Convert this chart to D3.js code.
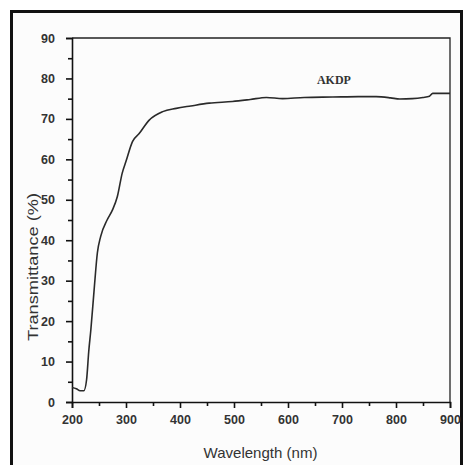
<!DOCTYPE html>
<html>
<head>
<meta charset="utf-8">
<script src="https://cdn.jsdelivr.net/npm/d3@7"></script>
<style>
  body { margin: 0; background: #fff; }
  svg { display: block; }
</style>
</head>
<body>
<svg id="chart" width="469" height="465"></svg>
<script>
// 数据
const wavelength = [200, 208, 215, 222, 227, 231, 235, 241, 247, 253, 265, 275, 284, 293, 300, 312, 324, 343, 368, 393, 420, 454, 497, 530, 560, 590, 630, 683, 730, 763, 790, 807, 830, 850, 862, 868, 900]
const transmittance = [3.6, 3.3, 2.8, 2.8, 5.5, 12.5, 18, 27.8, 36.9, 40.9, 45, 47.5, 50.8, 56.6, 59.5, 64.4, 66.3, 69.7, 71.8, 72.6, 73.2, 73.9, 74.3, 74.8, 75.3, 75.0, 75.3, 75.4, 75.5, 75.5, 75.2, 74.9, 75.0, 75.3, 75.6, 76.3, 76.3]
const xTicks = [200, 300, 400, 500, 600, 700, 800, 900]
const yTicks = [0, 10, 20, 30, 40, 50, 60, 70, 80, 90]
const seriesName = 'AKDP'

const svg = d3.select('#chart')
const plotL = 72, plotR = 450, plotT = 38, plotB = 402

const x = d3.scaleLinear().domain([200, 900]).range([plotL, plotR])
const y = d3.scaleLinear().domain([0, 90]).range([plotB, plotT])

// 外框
svg.append('rect').attr('x', 11.5).attr('y', 11.5).attr('width', 450).attr('height', 470)
  .attr('fill', '#fcfcfc').attr('stroke', '#111').attr('stroke-width', 3)

// 上、右边框
svg.append('path')
  .attr('d', `M${plotL},${plotT}H${plotR}V${plotB}`)
  .attr('fill', 'none').attr('stroke', '#222').attr('stroke-width', 1.3)

// 坐标轴
const xAxis = d3.axisBottom(x).tickValues(d3.range(200, 901, 50)).tickSize(6)
  .tickFormat(d => (xTicks.includes(d) ? d : ''))
const yAxis = d3.axisLeft(y).tickValues(d3.range(0, 91, 5)).tickSize(6)
  .tickFormat(d => (yTicks.includes(d) ? d : ''))

const gx = svg.append('g').attr('transform', `translate(0,${plotB})`).call(xAxis)
const gy = svg.append('g').attr('transform', `translate(${plotL},0)`).call(yAxis)

for (const g of [gx, gy]) {
  g.select('.domain').attr('stroke', '#111').attr('stroke-width', 1.6)
  g.selectAll('.tick line').attr('stroke', '#111').attr('stroke-width', 1.6)
  g.selectAll('.tick text')
    .attr('font-family', 'Liberation Sans, Arial, sans-serif')
    .attr('font-size', 12.5).attr('font-weight', 'bold').attr('fill', '#333')
}
gx.selectAll('.tick').filter(d => !xTicks.includes(d)).select('line').attr('y2', 4)
gy.selectAll('.tick').filter(d => !yTicks.includes(d)).select('line').attr('x2', -4)
gx.selectAll('.tick text').attr('y', 13)
gy.selectAll('.tick text').attr('x', -17)

// 曲线
const line = d3.line()
  .x((d, i) => x(wavelength[i]))
  .y(d => y(d))
  .curve(d3.curveMonotoneX)

svg.append('path')
  .datum(transmittance)
  .attr('d', line)
  .attr('fill', 'none')
  .attr('stroke', '#2a2a2a')
  .attr('stroke-width', 1.6)

// 系列名
svg.append('text')
  .attr('x', x(685)).attr('y', 84)
  .attr('text-anchor', 'middle')
  .attr('font-family', 'Liberation Serif, Times New Roman, serif')
  .attr('font-size', 12).attr('font-weight', 'bold').attr('fill', '#333')
  .text(seriesName)

// 轴标题
svg.append('text')
  .attr('x', 260.5).attr('y', 458)
  .attr('text-anchor', 'middle')
  .attr('font-family', 'Liberation Sans, Arial, sans-serif')
  .attr('font-size', 15).attr('fill', '#333')
  .attr('textLength', 114).attr('lengthAdjust', 'spacingAndGlyphs')
  .text('Wavelength (nm)')

svg.append('text')
  .attr('transform', 'translate(38,267) rotate(-90)')
  .attr('text-anchor', 'middle')
  .attr('font-family', 'Liberation Sans, Arial, sans-serif')
  .attr('font-size', 15).attr('fill', '#333')
  .attr('textLength', 148).attr('lengthAdjust', 'spacingAndGlyphs')
  .text('Transmittance (%)')
</script>
</body>
</html>
